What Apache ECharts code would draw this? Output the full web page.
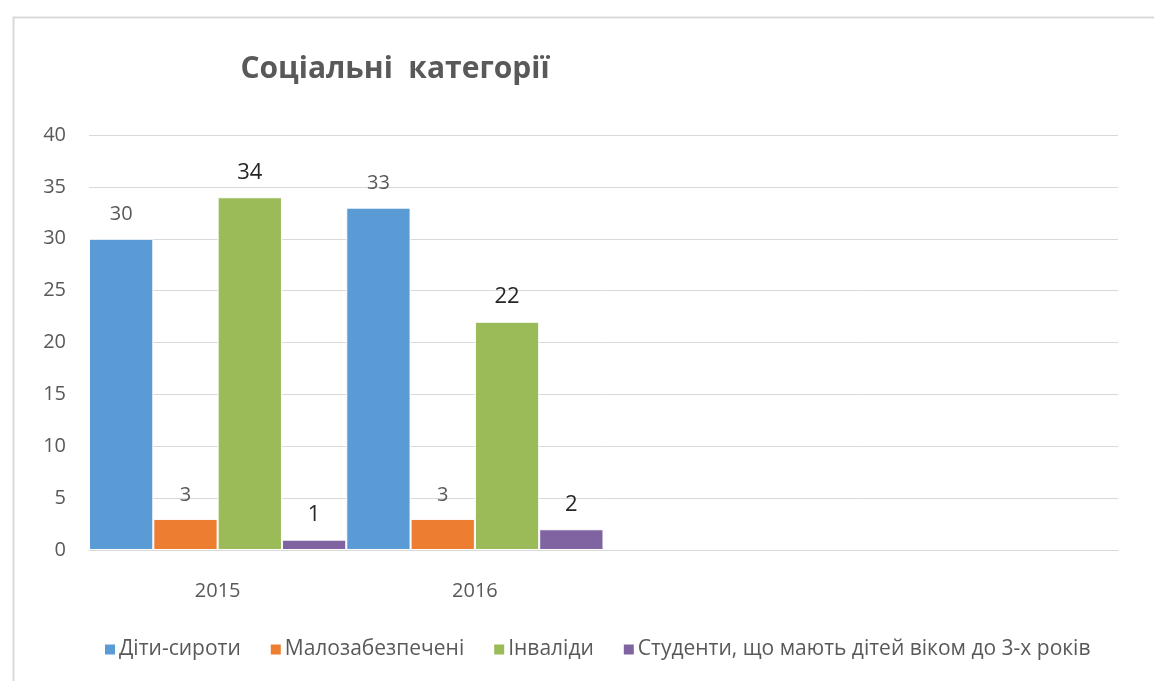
<!DOCTYPE html>
<html>
<head>
<meta charset="utf-8">
<script src="https://cdn.jsdelivr.net/npm/echarts@6/dist/echarts.min.js"></script>
<style>html,body{margin:0;padding:0;background:#fff}#c{width:1154px;height:681px}</style>
</head>
<body>
<div id="c"></div>
<script>
const categories = ['2015', '2016', '', ''];
const seriesNames = ['Діти-сироти', 'Малозабезпечені', 'Інваліди', 'Студенти, що мають дітей віком до 3-х років'];
const orphans = [30, 33, null, null];
const lowIncome = [3, 3, null, null];
const disabled = [34, 22, null, null];
const students = [1, 2, null, null];
const yTicks = {min: 0, max: 40, interval: 5};

const colors = ['#5B9BD5', '#ED7D31', '#9BBB59', '#8064A2'];
const labelColors = ['#595959', '#595959', '#262626', '#262626'];
const labelSizes = [20, 20, 22, 22];
const values = [orphans, lowIncome, disabled, students];
const FONT = 'Open Sans, Liberation Sans, sans-serif';

const chart = echarts.init(document.getElementById('c'), null, {renderer: 'canvas'});
chart.setOption({
  animation: false,
  color: colors,
  title: {
    text: 'Соціальні  категорії',
    left: 390, top: 49, textAlign: 'center',
    textStyle: {fontFamily: FONT, fontSize: 30, fontWeight: 'bold', color: '#595959'}
  },
  graphic: [{
    type: 'rect', left: 11, top: 15, silent: true, z: -10,
    shape: {width: 1200, height: 700},
    style: {fill: 'none', stroke: '#d9d9d9', lineWidth: 2}
  }],
  legend: {
    left: 98, top: 634,
    icon: 'rect', itemWidth: 12, itemHeight: 12, itemGap: 28,
    textStyle: {fontFamily: FONT, fontSize: 21, color: '#595959', padding: [0, 0, 0, -2]},
    data: seriesNames
  },
  grid: {left: 89, right: 36, top: 135, bottom: 131, containLabel: false},
  xAxis: {
    type: 'category', data: categories,
    axisLine: {lineStyle: {color: '#d9d9d9', width: 1}},
    axisTick: {show: false},
    axisLabel: {fontFamily: FONT, fontSize: 20, color: '#595959', margin: 31}
  },
  yAxis: {
    type: 'value', min: yTicks.min, max: yTicks.max, interval: yTicks.interval,
    axisLine: {show: false}, axisTick: {show: false},
    axisLabel: {fontFamily: FONT, fontSize: 20, color: '#595959', margin: 23},
    splitLine: {lineStyle: {color: '#d9d9d9', width: 1}}
  },
  series: seriesNames.map((n, i) => ({
    name: n, type: 'bar', data: values[i],
    barGap: '0%', barCategoryGap: '0%',
    itemStyle: {borderColor: '#fff', borderWidth: 1},
    label: {show: true, position: 'top', distance: 14, fontFamily: FONT, fontSize: labelSizes[i], color: labelColors[i]}
  }))
});
</script>
</body>
</html>
